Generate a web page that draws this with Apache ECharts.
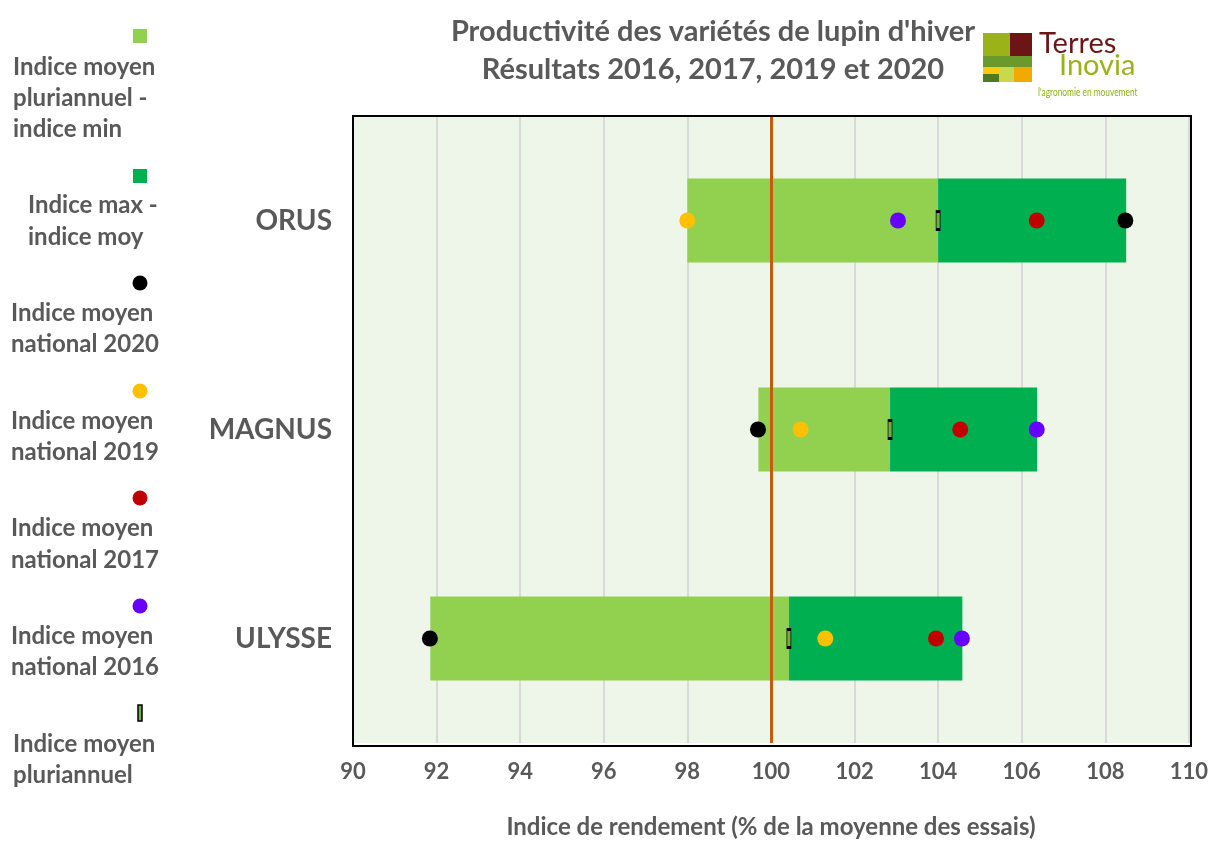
<!DOCTYPE html>
<html>
<head>
<meta charset="utf-8">
<script src="https://cdn.jsdelivr.net/npm/echarts@6/dist/echarts.min.js"></script>
<style>
html,body{margin:0;padding:0;background:#fff;}
#chart{width:1211px;height:844px;}
</style>
</head>
<body>
<div id="chart"></div>
<script>
// ---- data ----
const categories = ['ORUS', 'MAGNUS', 'ULYSSE'];
const indiceMin = [98.0, 99.7, 91.85];
const indiceMoyPluri = [104.0, 102.85, 100.43];
const indiceMax = [108.5, 106.37, 104.58];
const national2020 = [108.48, 99.69, 91.84];
const national2019 = [98.0, 100.71, 101.3];
const national2017 = [106.36, 104.53, 103.95];
const national2016 = [103.04, 106.36, 104.57];
const xTicks = [90, 92, 94, 96, 98, 100, 102, 104, 106, 108, 110];
const refLine = 100;

const legendNames = [
  'Indice moyen pluriannuel - indice min',
  'Indice max - indice moy',
  'Indice moyen national 2020',
  'Indice moyen national 2019',
  'Indice moyen national 2017',
  'Indice moyen national 2016',
  'Indice moyen pluriannuel'
];
const legendLines = [
  ['Indice moyen', 'pluriannuel -', 'indice min'],
  ['Indice max -', 'indice moy'],
  ['Indice moyen', 'national 2020'],
  ['Indice moyen', 'national 2019'],
  ['Indice moyen', 'national 2017'],
  ['Indice moyen', 'national 2016'],
  ['Indice moyen', 'pluriannuel']
];

const FONT = 'Lato';
const GREY = '#595959';
const cLight = '#92D050', cDark = '#00B050';
const c2020 = '#000000', c2019 = '#FFC000', c2017 = '#C00000', c2016 = '#6600FF';

const lightVals = categories.map((c, i) => +(indiceMoyPluri[i] - indiceMin[i]).toFixed(3));
const darkVals = categories.map((c, i) => +(indiceMax[i] - indiceMoyPluri[i]).toFixed(3));

// ---- legend graphic (icon above text, as in the reference) ----
const legendLayout = [
  {icon: 'rect', color: cLight, iy: 36, tx: 13, ty: [67, 98, 129]},
  {icon: 'rect', color: cDark, iy: 176, tx: 28, ty: [205, 237]},
  {icon: 'circle', color: c2020, iy: 283, tx: 11, ty: [313, 344]},
  {icon: 'circle', color: c2019, iy: 391, tx: 11, ty: [421, 452]},
  {icon: 'circle', color: c2017, iy: 498, tx: 11, ty: [528, 560]},
  {icon: 'circle', color: c2016, iy: 606, tx: 11, ty: [636, 667]},
  {icon: 'marker', color: '#70AD47', iy: 713, tx: 13, ty: [744, 775]}
];
const graphics = [];
legendLayout.forEach((L, k) => {
  if (L.icon === 'rect') {
    graphics.push({type: 'rect', left: 133, top: L.iy - 7, shape: {width: 14, height: 14}, style: {fill: L.color}});
  } else if (L.icon === 'circle') {
    graphics.push({type: 'circle', shape: {cx: 140, cy: L.iy, r: 7.5}, style: {fill: L.color}});
  } else {
    graphics.push({type: 'rect', shape: {x: 138, y: L.iy - 8, width: 4, height: 16}, style: {fill: L.color, stroke: '#000', lineWidth: 1.5}});
  }
  legendLines[k].forEach((t, j) => {
    graphics.push({type: 'text', x: L.tx, y: L.ty[j], style: {text: t, font: 'bold 24px ' + FONT, fill: GREY, textVerticalAlign: 'middle'}});
  });
});

// ---- plot frame ----
graphics.push({type: 'rect', z: 100, silent: true,
  shape: {x: 353, y: 116, width: 838, height: 630},
  style: {fill: 'none', stroke: '#000', lineWidth: 2}});

// ---- logo Terres Inovia ----
const logo = [
  {x: 983, y: 33, w: 27, h: 23, c: '#9BB318'},
  {x: 1010, y: 33, w: 22, h: 23, c: '#6B1515'},
  {x: 983, y: 56, w: 49, h: 11, c: '#6A9A2C'},
  {x: 983, y: 67, w: 16, h: 7, c: '#FFC90E'},
  {x: 983, y: 74, w: 16, h: 8, c: '#4F7A1F'},
  {x: 999, y: 67, w: 15, h: 15, c: '#C9D94B'},
  {x: 1014, y: 67, w: 18, h: 15, c: '#F2A900'}
];
logo.forEach(r => graphics.push({type: 'rect', shape: {x: r.x, y: r.y, width: r.w, height: r.h}, style: {fill: r.c}}));
graphics.push({type: 'text', x: 1039, y: 44, style: {text: 'Terres', font: '29px ' + FONT, fill: '#6B1515', textVerticalAlign: 'middle'}});
graphics.push({type: 'text', x: 1059, y: 66, style: {text: 'Inovia', font: '29px ' + FONT, fill: '#9BB318', textVerticalAlign: 'middle'}});
graphics.push({type: 'text', x: 1038, y: 92, scaleX: 0.76, originX: 0, originY: 0,
  style: {text: "l'agronomie en mouvement", font: '11px ' + FONT, fill: '#8DB21A', textVerticalAlign: 'middle'}});

const chart = echarts.init(document.getElementById('chart'));
const dot = (name, data, color) => ({
  name, type: 'scatter', data, symbol: 'circle', symbolSize: 16, z: 5,
  itemStyle: {color: color, opacity: 1}
});
chart.setOption({
  animation: false,
  backgroundColor: '#ffffff',
  title: {
    text: "Productivité des variétés de lupin d'hiver\nRésultats 2016, 2017, 2019 et 2020",
    left: 708, top: 8, textAlign: 'center',
    textStyle: {fontFamily: FONT, fontWeight: 'bold', fontSize: 29, color: GREY, lineHeight: 38}
  },
  grid: {
    left: 353, right: 20, top: 116, bottom: 98,
    show: true, backgroundColor: '#EEF5E9', borderWidth: 0
  },
  xAxis: {
    type: 'value', min: 90, max: 110, interval: 2,
    axisLine: {show: false}, axisTick: {show: false},
    splitLine: {show: true, lineStyle: {color: '#D9D9D9', width: 2}},
    axisLabel: {fontFamily: FONT, fontWeight: 'bold', fontSize: 22, color: GREY, margin: 18,
      formatter: v => xTicks.includes(v) ? String(v) : ''},
    name: 'Indice de rendement (% de la moyenne des essais)',
    nameLocation: 'middle', nameGap: 72,
    nameTextStyle: {fontFamily: FONT, fontWeight: 'bold', fontSize: 24, color: GREY}
  },
  yAxis: {
    type: 'category', data: categories, inverse: true,
    axisLine: {show: false}, axisTick: {show: false}, splitLine: {show: false},
    axisLabel: {fontFamily: FONT, fontWeight: 'bold', fontSize: 28, color: GREY, margin: 21}
  },
  graphic: graphics,
  series: [
    {name: 'base', type: 'bar', stack: 'b', data: indiceMin, barWidth: 84,
      itemStyle: {color: 'transparent'}, silent: true},
    {name: legendNames[0], type: 'bar', stack: 'b', data: lightVals, barWidth: 84,
      itemStyle: {color: cLight},
      markLine: {silent: true, symbol: 'none', label: {show: false},
        lineStyle: {color: '#C55A11', width: 3, type: 'solid'},
        data: [{xAxis: refLine}], z: 4}},
    {name: legendNames[1], type: 'bar', stack: 'b', data: darkVals, barWidth: 84,
      itemStyle: {color: cDark}},
    dot(legendNames[2], national2020.map((v, i) => [v, categories[i]]), c2020),
    dot(legendNames[3], national2019.map((v, i) => [v, categories[i]]), c2019),
    dot(legendNames[4], national2017.map((v, i) => [v, categories[i]]), c2017),
    dot(legendNames[5], national2016.map((v, i) => [v, categories[i]]), c2016),
    {name: legendNames[6], type: 'scatter', data: indiceMoyPluri.map((v, i) => [v, categories[i]]),
      symbol: 'rect', symbolSize: [4, 18], z: 6,
      itemStyle: {color: '#70AD47', borderColor: '#000', borderWidth: 1.5, opacity: 1}}
  ]
});
</script>
</body>
</html>
